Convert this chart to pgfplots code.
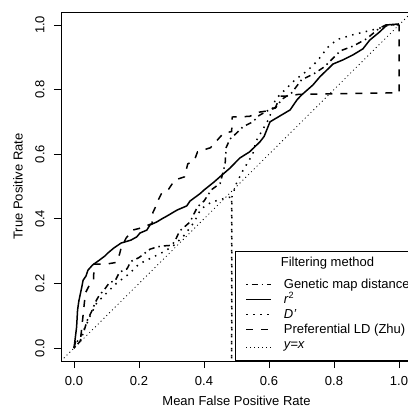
\documentclass[border=0pt]{standalone}
\usepackage{graphicx}
\usepackage{pgfplots}
\pgfplotsset{compat=1.18}
\usepackage{fontspec}
\setmainfont{Liberation Sans}
\newcommand{\f}{\fontsize{13bp}{15bp}\selectfont}
\newcommand{\rl}[1]{\rotatebox{90}{#1}}
\begin{document}
\begin{tikzpicture}
\useasboundingbox (0,0) rectangle (408bp,409bp);
\clip (0,0) rectangle (408bp,409bp);
\begin{axis}[
 at={(61bp,48bp)}, anchor=south west,
 scale only axis, width=351bp, height=349bp,
 xmin=-0.04, xmax=1.04, ymin=-0.04, ymax=1.04,
 xtick={0,0.2,0.4,0.6,0.8,1}, ytick={0,0.2,0.4,0.6,0.8,1},
 xticklabels={0.0,0.2,0.4,0.6,0.8,1.0},
 yticklabels={\rl{0.0},\rl{0.2},\rl{0.4},\rl{0.6},\rl{0.8},\rl{1.0}},
 tick align=outside, xtick pos=left, ytick pos=left,
 major tick length=7bp,
 axis line style={line width=0.8bp},
 every tick/.style={line width=0.8bp, black},
 xticklabel style={font=\f, anchor=north, inner sep=0pt},
 yticklabel style={font=\f, anchor=east, inner sep=0pt, xshift=-9.3bp},
 xticklabel shift=8.5bp,
 xlabel={Mean False Positive Rate}, ylabel={True Positive Rate},
 label style={font=\f},
 xlabel style={at={(axis description cs:0.5,-0.1146)}, anchor=center},
 ylabel style={at={(axis description cs:-0.1225,0.5)}, anchor=center},
 legend image code/.code={\draw[#1] (0bp,0bp) -- (25bp,0bp);},
 legend cell align=left,
 legend style={at={(0.4957,0)}, anchor=south west, draw=black, line width=0.8bp,
   font=\f, inner xsep=10bp, inner ysep=5bp, row sep=3bp,
   nodes={inner sep=0pt, text height=9.5bp, text depth=2.5bp},
   /tikz/every odd column/.style={column sep=12bp}},
]
\addlegendimage{empty legend}
\addlegendentry[text depth=9.5bp]{\hspace*{-3bp}Filtering method}
% Genetic map distance (dot-dash)
\addplot[black, line width=1.5bp, dash pattern=on 1.5bp off 4bp on 6bp off 4bp] coordinates {
(0,0) (0.003,0.003) (0.018,0.02) (0.03,0.05) (0.04,0.084) (0.055,0.115) (0.065,0.14) (0.07,0.15) (0.08,0.167) (0.09,0.176) (0.11,0.204) (0.126,0.207) (0.14,0.235) (0.163,0.245) (0.175,0.268) (0.2,0.28) (0.234,0.306) (0.255,0.313) (0.274,0.316) (0.3,0.318) (0.31,0.33) (0.325,0.362) (0.357,0.39) (0.368,0.413) (0.38,0.437) (0.4,0.455) (0.423,0.49) (0.45,0.51) (0.455,0.53) (0.465,0.57) (0.468,0.62) (0.48,0.647) (0.5,0.665) (0.52,0.685) (0.55,0.7) (0.57,0.72) (0.6,0.737) (0.62,0.743) (0.64,0.77) (0.67,0.79) (0.7,0.83) (0.74,0.85) (0.77,0.87) (0.79,0.89) (0.82,0.92) (0.86,0.935) (0.9,0.957) (0.94,0.99) (0.96,1.0) (1,1)
};
\addlegendentry{Genetic map distance}
% r^2 (solid)
\addplot[black, line width=1.5bp, solid] coordinates {
(0,0) (0.005,0.04) (0.008,0.065) (0.011,0.118) (0.015,0.146) (0.024,0.189) (0.028,0.21) (0.037,0.223) (0.043,0.241) (0.057,0.257) (0.078,0.272) (0.095,0.285) (0.104,0.294) (0.123,0.31) (0.145,0.325) (0.175,0.334) (0.193,0.344) (0.203,0.356) (0.224,0.365) (0.234,0.381) (0.254,0.39) (0.274,0.402) (0.285,0.408) (0.317,0.427) (0.347,0.44) (0.357,0.455) (0.388,0.478) (0.4,0.489) (0.431,0.514) (0.449,0.53) (0.48,0.557) (0.51,0.588) (0.54,0.607) (0.572,0.638) (0.585,0.655) (0.603,0.7) (0.628,0.715) (0.665,0.737) (0.686,0.768) (0.7,0.783) (0.735,0.814) (0.757,0.84) (0.788,0.87) (0.797,0.879) (0.828,0.892) (0.858,0.907) (0.889,0.926) (0.91,0.953) (0.94,0.978) (0.963,1.0) (1.0,1.003)
};
\addlegendentry{\textit{r}\textsuperscript{2}}
% D' (dotted)
\addplot[black, line width=1.5bp, dash pattern=on 1.5bp off 5.5bp] coordinates {
(0,0) (0.01,0.02) (0.027,0.05) (0.037,0.07) (0.05,0.1) (0.07,0.14) (0.1,0.17) (0.13,0.2) (0.17,0.23) (0.2,0.26) (0.24,0.28) (0.28,0.3) (0.31,0.32) (0.34,0.35) (0.37,0.39) (0.39,0.43) (0.42,0.45) (0.45,0.46) (0.485,0.468) (0.485,-0.2) (0.486,0.468) (0.5,0.51) (0.52,0.55) (0.55,0.6) (0.56,0.64) (0.6,0.71) (0.62,0.77) (0.65,0.8) (0.68,0.83) (0.72,0.86) (0.75,0.89) (0.78,0.93) (0.81,0.955) (0.86,0.97) (0.9,0.98) (0.94,0.99) (0.97,1.0) (1,1)
};
\addlegendentry{\textit{D'}}
% Preferential LD (dashed)
\addplot[black, line width=1.5bp, dash pattern=on 7bp off 8bp] coordinates {
(0,0) (0.005,0.02) (0.02,0.025) (0.035,0.17) (0.045,0.19) (0.06,0.21) (0.062,0.26) (0.1,0.26) (0.13,0.265) (0.14,0.29) (0.145,0.31) (0.16,0.34) (0.18,0.365) (0.2,0.37) (0.24,0.385) (0.243,0.42) (0.25,0.435) (0.26,0.46) (0.27,0.48) (0.29,0.49) (0.31,0.52) (0.34,0.53) (0.35,0.57) (0.37,0.58) (0.38,0.607) (0.42,0.62) (0.46,0.665) (0.485,0.67) (0.487,0.715) (0.54,0.717) (0.57,0.73) (0.6,0.735) (0.62,0.745) (0.635,0.78) (0.66,0.78) (0.69,0.785) (1.0,0.79) (1.0,1.0)
};
\addlegendentry{Preferential LD (Zhu)}
% y = x
\addplot[black, line width=0.8bp, dash pattern=on 1bp off 3bp] coordinates {(-0.04,-0.04) (1.04,1.04)};
\addlegendentry[text depth=7.5bp]{\textit{y=x}}
\end{axis}
\end{tikzpicture}
\end{document}
